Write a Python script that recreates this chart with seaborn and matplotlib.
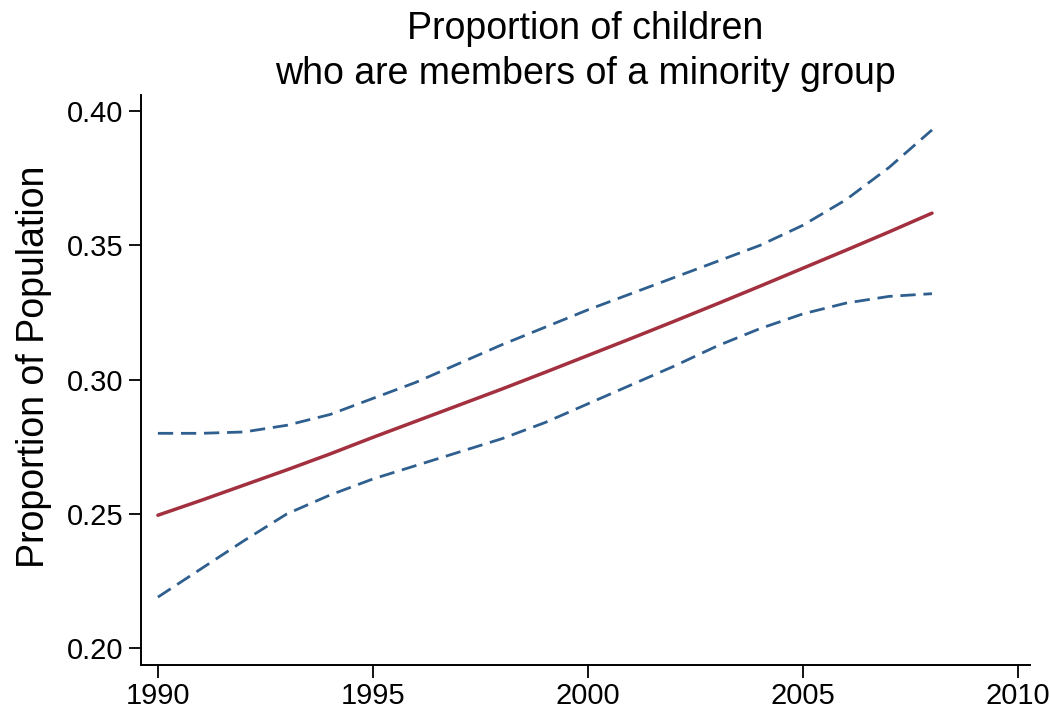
import numpy as np
import pandas as pd
import matplotlib
matplotlib.use("Agg")
import matplotlib.pyplot as plt
import seaborn as sns

years = [1990, 1991, 1992, 1993, 1994, 1995, 1996, 1997, 1998, 1999,
         2000, 2001, 2002, 2003, 2004, 2005, 2006, 2007, 2008]
fitted = [0.2495, 0.2550, 0.2607, 0.2664, 0.2723, 0.2785, 0.2845, 0.2905, 0.2965, 0.3027,
          0.3090, 0.3153, 0.3217, 0.3282, 0.3348, 0.3415, 0.3482, 0.3550, 0.3620]
upper = [0.2800, 0.2800, 0.2805, 0.2830, 0.2870, 0.2930, 0.2990, 0.3060, 0.3130, 0.3195,
         0.3260, 0.3320, 0.3380, 0.3440, 0.3500, 0.3575, 0.3670, 0.3790, 0.3930]
lower = [0.2190, 0.2295, 0.2400, 0.2500, 0.2570, 0.2630, 0.2680, 0.2730, 0.2780, 0.2840,
         0.2910, 0.2980, 0.3050, 0.3125, 0.3190, 0.3245, 0.3285, 0.3310, 0.3320]

df = pd.DataFrame({'year': years, 'fitted': fitted, 'upper': upper, 'lower': lower})

sns.set_style('ticks')
plt.rcParams['font.family'] = ['Liberation Sans', 'DejaVu Sans']
plt.rcParams['text.color'] = 'black'
plt.rcParams['axes.labelcolor'] = 'black'
plt.rcParams['xtick.color'] = 'black'
plt.rcParams['ytick.color'] = 'black'

fig = plt.figure(figsize=(10.5, 7.09), dpi=100)
ax = fig.add_axes([0.134, 0.062, 0.847, 0.804])

blue = '#2f5f8f'
red = '#a3303e'
sns.lineplot(data=df, x='year', y='upper', ax=ax, color=blue, lw=2, linestyle=(0, (5.5, 2.8)))
sns.lineplot(data=df, x='year', y='lower', ax=ax, color=blue, lw=2, linestyle=(0, (5.5, 2.8)))
sns.lineplot(data=df, x='year', y='fitted', ax=ax, color=red, lw=2.5)

ax.set_xlim(1989.6, 2010.28)
ax.set_ylim(0.1937, 0.406)
ax.set_xticks([1990, 1995, 2000, 2005, 2010])
ax.set_yticks([0.20, 0.25, 0.30, 0.35, 0.40])
ax.set_yticklabels(['{:.2f}'.format(v) for v in [0.20, 0.25, 0.30, 0.35, 0.40]])
ax.tick_params(labelsize=21, length=9, width=1.3, color='black', labelcolor='black')
for s in ['left', 'bottom']:
    ax.spines[s].set_linewidth(1.4)
    ax.spines[s].set_color('black')
sns.despine(ax=ax)

ax.set_xlabel('')
ax.set_ylabel('Proportion of Population', fontsize=27, color='black')
ax.yaxis.set_label_coords(-0.1, 0.523)
ax.set_title('Proportion of children\nwho are members of a minority group',
             fontsize=27, linespacing=1.3, pad=8, color='black')

fig.savefig('out.png', dpi=100)
